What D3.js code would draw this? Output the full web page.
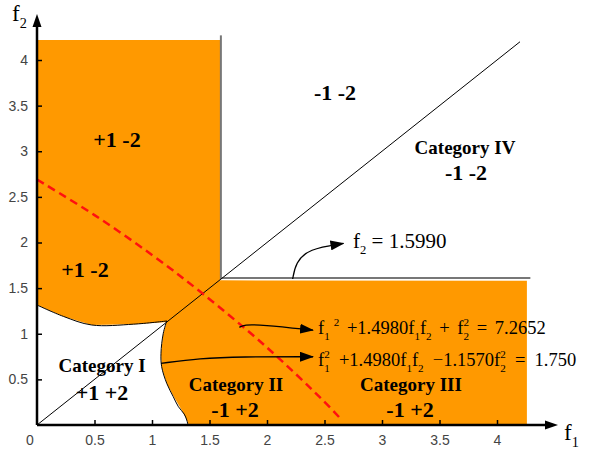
<!DOCTYPE html>
<html>
<head>
<meta charset="utf-8">
<script src="https://cdn.jsdelivr.net/npm/d3@7"></script>
<style>
  body { margin: 0; background: #fff; }
</style>
</head>
<body>
<div id="chart"></div>
<script>
// tick values
var xTicks = [0.5, 1, 1.5, 2, 2.5, 3, 3.5, 4];
var yTicks = [0.5, 1, 1.5, 2, 2.5, 3, 3.5, 4];

// decision regions (f1, f2)
var threshold = 1.599;
var upperLeftRegion = [[0, 4.22], [1.6, 4.22], [1.6, 1.6], [1.13, 1.13], [0.84, 1.105], [0.475, 1.096], [0.23, 1.19], [0, 1.315]];
var lowerRightRegion = [[1.585, 1.585], [4.26, 1.58], [4.26, 0], [1.32, 0], [1.30, 0.06], [1.26, 0.16], [1.19, 0.31], [1.13, 0.45], [1.085, 0.63], [1.078, 0.78], [1.098, 1.0], [1.128, 1.14]];
var catITop = [[0, 1.315], [0.23, 1.19], [0.475, 1.096], [0.84, 1.105], [1.13, 1.14]];
var catIRight = [[1.128, 1.14], [1.098, 1.005], [1.078, 0.785], [1.084, 0.639], [1.128, 0.457], [1.185, 0.31], [1.23, 0.2], [1.28, 0.12], [1.302, 0.055], [1.313, 0]];
var diagonal = [[0, 0], [4.2, 4.2]];

// dashed boundary
var ellipse = [[0, 2.69], [0.5, 2.30], [1, 1.864], [1.44, 1.44], [2, 0.849], [2.5, 0.254], [2.65, 0.055]];

// annotation arrows
var arrowThreshold = [[2.223, 1.6], [2.25, 1.78], [2.36, 1.93], [2.665, 1.99]];
var arrowEq1 = [[1.76, 1.07], [1.8, 1.1], [1.95, 1.1], [2.4, 1.04]];
var arrowEq2 = [[1.078, 0.676], [1.417, 0.73], [1.765, 0.748], [2.4, 0.748]];

var width = 592, height = 450;
var orange = "#FF9900";
var serif = "Liberation Serif";
var sans = "Liberation Sans";

var svg = d3.select("#chart").append("svg")
  .attr("width", width)
  .attr("height", height);

var x = d3.scaleLinear().domain([0, 4]).range([37, 497]);
var y = d3.scaleLinear().domain([0, 4]).range([425, 60]);

var line = d3.line().x(d => x(d[0])).y(d => y(d[1]));
var smooth = d3.line().x(d => x(d[0])).y(d => y(d[1])).curve(d3.curveCatmullRom);

var defs = svg.append("defs");
defs.append("marker")
  .attr("id", "head")
  .attr("markerUnits", "userSpaceOnUse")
  .attr("viewBox", "0 0 14 10")
  .attr("refX", 13).attr("refY", 5)
  .attr("markerWidth", 14).attr("markerHeight", 10)
  .attr("orient", "auto")
  .append("path").attr("d", "M0,0 L14,5 L0,10 Z").attr("fill", "#000");

// regions
svg.append("path").datum(upperLeftRegion)
  .attr("d", d => line(d) + "Z")
  .attr("fill", orange);
svg.append("path").datum(lowerRightRegion)
  .attr("d", d => line(d) + "Z")
  .attr("fill", orange);

// region borders
svg.append("path").datum(catITop)
  .attr("d", smooth).attr("fill", "none").attr("stroke", "#000").attr("stroke-width", 1);
svg.append("path").datum(catIRight)
  .attr("d", smooth).attr("fill", "none").attr("stroke", "#000").attr("stroke-width", 1);

// threshold lines f1 = 1.599, f2 = 1.599
svg.append("line")
  .attr("x1", x(threshold)).attr("x2", x(threshold))
  .attr("y1", y(threshold)).attr("y2", y(4.27))
  .attr("stroke", "#777").attr("stroke-width", 2);
svg.append("line")
  .attr("x1", x(threshold)).attr("x2", x(4.29))
  .attr("y1", y(1.61)).attr("y2", y(1.61))
  .attr("stroke", "#777").attr("stroke-width", 2);

svg.append("path").datum(diagonal)
  .attr("d", line).attr("stroke", "#000").attr("stroke-width", 1);

svg.append("path").datum(ellipse)
  .attr("d", smooth).attr("fill", "none")
  .attr("stroke", "#FF1010").attr("stroke-width", 2.5)
  .attr("stroke-dasharray", "8,5");

// annotation arrows
[arrowThreshold, arrowEq1, arrowEq2].forEach(function(pts) {
  svg.append("path").datum(pts)
    .attr("d", d3.line().x(d => x(d[0])).y(d => y(d[1])).curve(d3.curveBasis))
    .attr("fill", "none").attr("stroke", "#000").attr("stroke-width", 1.3)
    .attr("marker-end", "url(#head)");
});

// axes
var xAxis = svg.append("g")
  .attr("transform", "translate(0," + y(0) + ")")
  .call(d3.axisBottom(x).tickValues(xTicks).tickSize(-5).tickPadding(10).tickFormat(d3.format("")));
var yAxis = svg.append("g")
  .attr("transform", "translate(" + x(0) + ",0)")
  .call(d3.axisLeft(y).tickValues(yTicks).tickSize(-5).tickPadding(9).tickFormat(d3.format("")));
[xAxis, yAxis].forEach(function(g) {
  g.select(".domain").remove();
  g.selectAll(".tick line").attr("stroke", "#000").attr("stroke-width", 1.5);
  g.selectAll(".tick text").attr("font-family", sans).attr("font-size", 14).attr("fill", "#444");
});

svg.append("text").attr("x", 30).attr("y", 445)
  .attr("text-anchor", "middle")
  .attr("font-family", sans)
  .attr("font-size", 14).attr("fill", "#444").text("0");

svg.append("line").attr("x1", x(0)).attr("x2", 548)
  .attr("y1", y(0)).attr("y2", y(0))
  .attr("stroke", "#000").attr("stroke-width", 2.5);
svg.append("path").attr("d", "M545,420.5 L558,425 L545,429.5 Z").attr("fill", "#000");
svg.append("line").attr("x1", x(0)).attr("x2", x(0))
  .attr("y1", y(0)).attr("y2", 24)
  .attr("stroke", "#000").attr("stroke-width", 2.5);
svg.append("path").attr("d", "M32.5,27 L37,14 L41.5,27 Z").attr("fill", "#000");

// axis titles
function fvar(px, py, sub, size) {
  var t = svg.append("text").attr("x", px).attr("y", py)
    .attr("font-family", serif).attr("font-size", size);
  t.append("tspan").text("f");
  t.append("tspan").attr("dy", size * 0.3).attr("font-size", size * 0.62).text(sub);
}
fvar(564, 440, "1", 23);
fvar(12, 21, "2", 23);

// region labels
function label(txt, px, py, size) {
  svg.append("text")
    .attr("x", px).attr("y", py)
    .attr("text-anchor", "middle")
    .attr("font-family", serif)
    .attr("font-weight", "bold")
    .attr("font-size", size)
    .text(txt);
}
label("+1 -2", 117, 147, 22);
label("+1 -2", 85, 277, 22);
label("-1 -2", 335, 100, 22);
label("Category IV", 465, 154, 19);
label("-1 -2", 466, 180, 22);
label("Category I", 102, 372, 19);
label("+1 +2", 102, 400, 22);
label("Category II", 236, 391, 19);
label("-1 +2", 235, 417, 22);
label("Category III", 411, 391, 19);
label("-1 +2", 410, 417, 22);

// equations: parts of [text, kind, dx]
function equation(parts, px, py, size, ws) {
  var t = svg.append("text")
    .attr("x", px).attr("y", py)
    .attr("font-family", serif).attr("font-size", size)
    .attr("word-spacing", ws);
  var off = 0;
  parts.forEach(function(p) {
    var target = p[1] === "sub" ? size * 0.3 : p[1] === "sup" ? -size * 0.42 : 0;
    var s = t.append("tspan").attr("dy", target - off).text(p[0]);
    if (p[1] !== "n") s.attr("font-size", size * 0.6);
    if (p[2]) s.attr("dx", p[2]);
    off = target;
  });
}
equation([["f", "n"], ["2", "sub"], [" = 1.5990", "n"]], 353, 248, 21, 0);
equation([["f", "n"], ["1", "sub"], ["2", "sup", 4], [" +1.4980f", "n"], ["1", "sub"], ["f", "n"], ["2", "sub"],
  [" + f", "n"], ["2", "sub"], ["2", "sup", -5.5], [" = 7.2652", "n"]], 318, 334, 18.5, 3);
equation([["f", "n"], ["1", "sub"], ["2", "sup", -5.5], [" +1.4980f", "n"], ["1", "sub"], ["f", "n"], ["2", "sub"],
  [" \u22121.1570f", "n"], ["2", "sub"], ["2", "sup", -5.5], [" = 1.750", "n"]], 318, 366, 18.5, 4.5);
</script>
</body>
</html>
